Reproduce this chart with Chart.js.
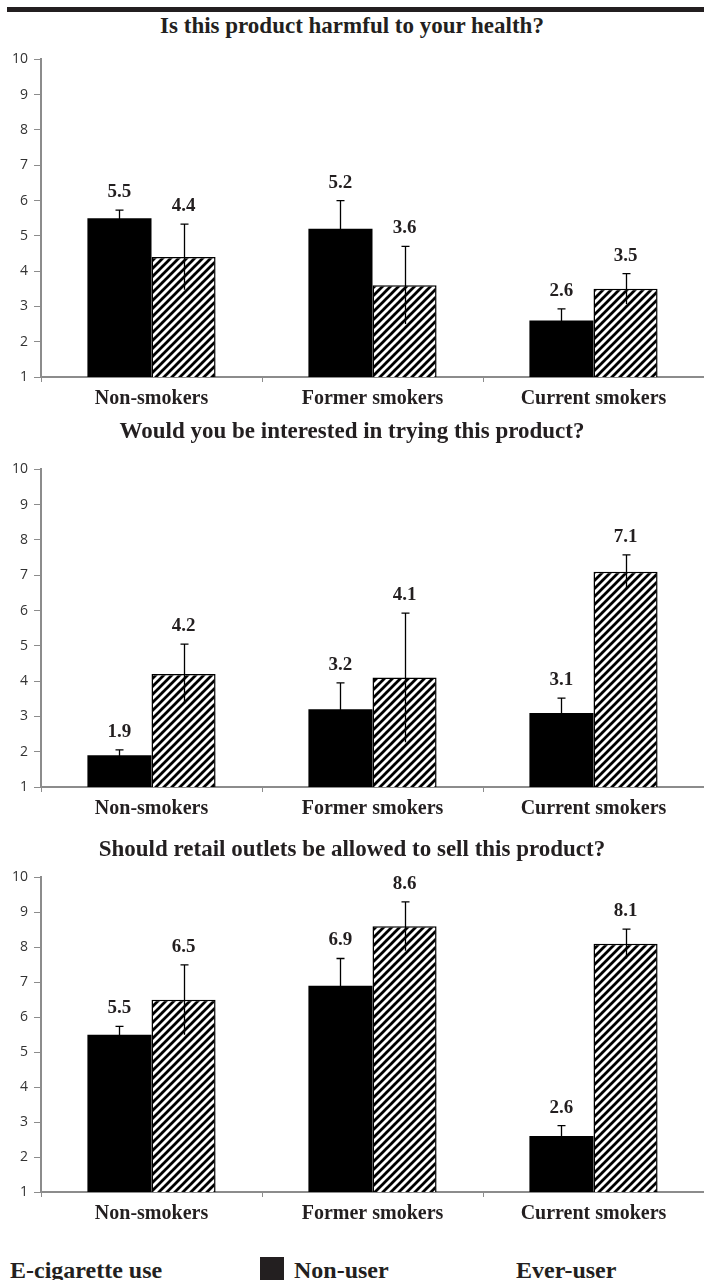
<!DOCTYPE html>
<html>
<head>
<meta charset="utf-8">
<script src="https://cdn.jsdelivr.net/npm/chart.js@4.4.1/dist/chart.umd.min.js"></script>
<style>
  html, body { margin: 0; padding: 0; background: #fff; }
  body { position: relative; width: 704px; height: 1280px; overflow: hidden; font-family: "Liberation Serif", "Times New Roman", serif; color: #231f20; }
  .rule { position: absolute; left: 7px; right: 0; top: 7px; height: 5px; background: #231f20; }
  .title { position: absolute; left: 0; width: 704px; text-align: center; font-weight: bold; font-size: 23px; line-height: 23px; white-space: nowrap; }
  canvas.panel { position: absolute; left: 0; }
  .legend { position: absolute; font-weight: bold; font-size: 24px; line-height: 24px; white-space: nowrap; }
  .swatch { position: absolute; background: #231f20; }
</style>
</head>
<body>
<div class="rule"></div>

<div class="title" id="t0" style="top:14px"></div>
<canvas class="panel" id="c0" width="704" height="377" style="top:45px"></canvas>

<div class="title" id="t1" style="top:419px"></div>
<canvas class="panel" id="c1" width="704" height="377" style="top:455px"></canvas>

<div class="title" id="t2" style="top:837px"></div>
<canvas class="panel" id="c2" width="704" height="374" style="top:863px"></canvas>

<div class="legend" style="left:10px; top:1258px">E-cigarette use</div>
<div class="swatch" style="left:260px; top:1257px; width:24px; height:30px"></div>
<div class="legend" style="left:294px; top:1258px">Non-user</div>
<div class="legend" style="left:516px; top:1258px">Ever-user</div>

<script>
// Survey questions, one panel each
const titles = [
  'Is this product harmful to your health?',
  'Would you be interested in trying this product?',
  'Should retail outlets be allowed to sell this product?'
];
const categories = ['Non-smokers', 'Former smokers', 'Current smokers'];
const seriesNames = ['Non-user', 'Ever-user'];

// Mean scores (1-10) and error half-widths
const harmNonUser = [5.5, 5.2, 2.6];
const harmNonUserErr = [0.23, 0.80, 0.33];
const harmEverUser = [4.4, 3.6, 3.5];
const harmEverUserErr = [0.93, 1.10, 0.43];

const tryNonUser = [1.9, 3.2, 3.1];
const tryNonUserErr = [0.15, 0.75, 0.42];
const tryEverUser = [4.2, 4.1, 7.1];
const tryEverUserErr = [0.85, 1.83, 0.48];

const sellNonUser = [5.5, 6.9, 2.6];
const sellNonUserErr = [0.24, 0.78, 0.30];
const sellEverUser = [6.5, 8.6, 8.1];
const sellEverUserErr = [1.00, 0.70, 0.42];

const yMin = 1;
const yMax = 10;

const panels = [
  { nonUser: harmNonUser, nonUserErr: harmNonUserErr, everUser: harmEverUser, everUserErr: harmEverUserErr },
  { nonUser: tryNonUser, nonUserErr: tryNonUserErr, everUser: tryEverUser, everUserErr: tryEverUserErr },
  { nonUser: sellNonUser, nonUserErr: sellNonUserErr, everUser: sellEverUser, everUserErr: sellEverUserErr }
];

const INK = '#231f20';
const AXIS = '#8c8c8c';

// Diagonal hatch fill for the ever-user bars
function makeHatch() {
  const s = 8;
  const c = document.createElement('canvas');
  c.width = s; c.height = s;
  const g = c.getContext('2d');
  g.fillStyle = '#fff';
  g.fillRect(0, 0, s, s);
  g.strokeStyle = '#000';
  g.lineWidth = 2.8;
  g.beginPath();
  g.moveTo(-1, s + 1); g.lineTo(s + 1, -1);
  g.moveTo(-2, 2); g.lineTo(2, -2);
  g.moveTo(s - 2, s + 2); g.lineTo(s + 2, s - 2);
  g.stroke();
  return g.createPattern(c, 'repeat');
}

// Error bars with a top cap, plus the value printed above each bar
const errorBarPlugin = {
  id: 'errorBars',
  afterDatasetsDraw(chart) {
    const ctx = chart.ctx;
    const yScale = chart.scales.y;
    chart.data.datasets.forEach((ds, di) => {
      const meta = chart.getDatasetMeta(di);
      meta.data.forEach((bar, i) => {
        const v = ds.data[i];
        const e = ds.errors[i];
        const x = Math.round(bar.x) + 0.5;
        const yTop = yScale.getPixelForValue(v + e);
        const yBot = yScale.getPixelForValue(v - e);
        ctx.save();
        ctx.strokeStyle = '#000';
        ctx.lineWidth = 1.3;
        ctx.beginPath();
        ctx.moveTo(x, yBot);
        ctx.lineTo(x, yTop);
        ctx.moveTo(x - 4, yTop);
        ctx.lineTo(x + 4, yTop);
        ctx.stroke();
        ctx.fillStyle = INK;
        ctx.font = 'bold 19px "Liberation Serif", serif';
        ctx.textAlign = 'center';
        ctx.textBaseline = 'alphabetic';
        ctx.fillText(v.toFixed(1), bar.x, yTop - 13);
        ctx.restore();
      });
    });
  }
};

const hatch = makeHatch();

panels.forEach((p, idx) => {
  document.getElementById('t' + idx).textContent = titles[idx];
  const ctx = document.getElementById('c' + idx).getContext('2d');
  new Chart(ctx, {
    type: 'bar',
    data: {
      labels: categories,
      datasets: [
        {
          label: seriesNames[0],
          data: p.nonUser,
          errors: p.nonUserErr,
          backgroundColor: '#000',
          borderWidth: 0,
          categoryPercentage: 0.58,
          barPercentage: 1.0
        },
        {
          label: seriesNames[1],
          data: p.everUser,
          errors: p.everUserErr,
          backgroundColor: hatch,
          borderColor: '#000',
          borderWidth: 1.5,
          categoryPercentage: 0.58,
          barPercentage: 1.0
        }
      ]
    },
    options: {
      responsive: false,
      animation: false,
      events: [],
      layout: { padding: { top: 12, left: 0, right: 0, bottom: 0 } },
      plugins: {
        legend: { display: false },
        title: { display: false },
        tooltip: { enabled: false }
      },
      scales: {
        x: {
          afterFit(scale) { scale.height = 45; },
          grid: {
            display: true,
            offset: true,
            drawOnChartArea: false,
            drawTicks: true,
            tickLength: 5,
            color: AXIS,
            lineWidth: 1
          },
          border: { display: true, color: AXIS, width: 2 },
          ticks: {
            color: INK,
            padding: 5,
            maxRotation: 0,
            autoSkip: false,
            font: { family: '"Liberation Serif", serif', size: 20, weight: 'bold' }
          }
        },
        y: {
          min: yMin,
          max: yMax,
          afterFit(scale) { scale.width = 41; },
          grid: {
            display: true,
            drawOnChartArea: false,
            drawTicks: true,
            tickLength: 7,
            color: AXIS,
            lineWidth: 1
          },
          border: { display: true, color: AXIS, width: 2 },
          ticks: {
            stepSize: 1,
            color: '#333',
            padding: 6,
            font: { family: '"Open Sans", sans-serif', size: 14 }
          }
        }
      }
    },
    plugins: [errorBarPlugin]
  });
});
</script>
</body>
</html>
